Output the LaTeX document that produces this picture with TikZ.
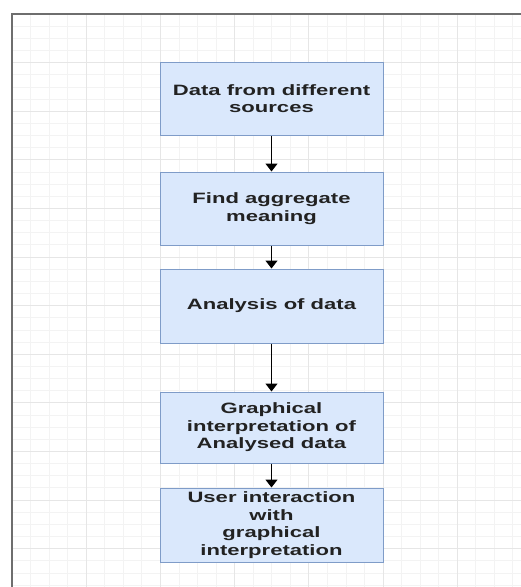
\documentclass[tikz,border=0pt]{standalone}
\usepackage{fontspec}
\newfontfamily\widesans[FakeStretch=1.47]{Liberation Sans}
\usetikzlibrary{arrows.meta}
\definecolor{boxfill}{HTML}{DAE8FC}
\definecolor{boxline}{HTML}{7F9CC8}
\definecolor{gridmajor}{HTML}{E6E6E6}
\definecolor{gridminor}{HTML}{F3F3F3}
\definecolor{framegray}{HTML}{6E6E6E}
\definecolor{txt}{HTML}{222222}
\tikzset{
  flowbox/.style={draw=boxline, fill=boxfill, line width=1pt, minimum width=223pt,
    inner sep=0pt, align=center, text=txt,
    font=\widesans\bfseries\fontsize{15}{17.5}\selectfont},
  flowarrow/.style={draw=black, line width=1.4pt, -{Triangle[width=12pt,length=8pt]}}
}
\begin{document}
\begin{tikzpicture}[x=1pt,y=-1pt]
\useasboundingbox (0,0) rectangle (521,587);
\fill[white] (0,0) rectangle (521,587);
% minor grid
\foreach \i in {0,...,27} {\draw[gridminor, line width=0.8pt] ({12+18.55*\i},14) -- ({12+18.55*\i},587);}
\foreach \j in {0,...,47} {\draw[gridminor, line width=0.8pt] (12,{14+12.15*\j}) -- (521,{14+12.15*\j});}
% major grid
\foreach \i in {0,...,6} {\draw[gridmajor, line width=1pt] ({12+74.2*\i},14) -- ({12+74.2*\i},587);}
\foreach \j in {0,...,11} {\draw[gridmajor, line width=1pt] (12,{14+48.6*\j}) -- (521,{14+48.6*\j});}
% frame
\draw[framegray, line width=2pt] (12,587) -- (12,14) -- (521,14);
% boxes
\node[flowbox, minimum height=73pt] (b1) at (271.5,98.5) {Data from different\\sources};
\node[flowbox, minimum height=73pt] (b2) at (271.5,208.5) {Find aggregate\\meaning};
\node[flowbox, minimum height=74pt] (b3) at (271.5,306) {Analysis of data};
\node[flowbox, minimum height=71pt] (b4) at (271.5,427.5) {Graphical\\interpretation of\\Analysed data};
\node[flowbox, minimum height=74pt] (b5) at (271.5,525) {User interaction\\with\\graphical\\interpretation};
% arrows
\draw[flowarrow] (b1) -- (b2);
\draw[flowarrow] (b2) -- (b3);
\draw[flowarrow] (b3) -- (b4);
\draw[flowarrow] (b4) -- (b5);
\end{tikzpicture}
\end{document}
